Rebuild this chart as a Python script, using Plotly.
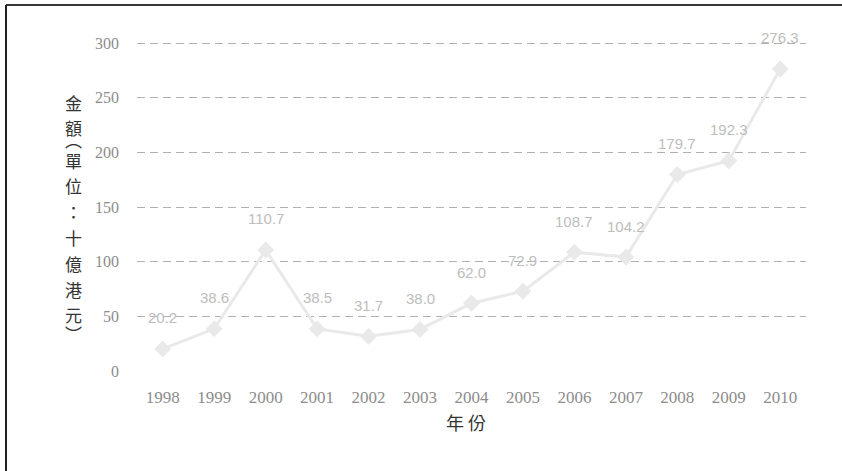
import plotly.graph_objects as go

years = ["1998", "1999", "2000", "2001", "2002", "2003", "2004",
         "2005", "2006", "2007", "2008", "2009", "2010"]
values = [20.2, 38.6, 110.7, 38.5, 31.7, 38.0, 62.0,
          72.9, 108.7, 104.2, 179.7, 192.3, 276.3]
y_ticks = [0, 50, 100, 150, 200, 250, 300]
y_title_chars = ["金", "額", "︵", "單", "位", "：", "十", "億", "港", "元", "︶"]
x_title = "年 份"

W, H = 842, 471
L, R, T, B = 137, 36, 38, 100
pw, ph = W - L - R, H - T - B
y_top_val = 304.6

fig = go.Figure()
fig.add_trace(go.Scatter(
    x=years, y=values, mode="lines+markers",
    line=dict(color="#e9e9e9", width=3),
    marker=dict(symbol="diamond", size=13, color="#e9e9e9"),
    hoverinfo="skip", showlegend=False,
))

for i, v in enumerate(values):
    fig.add_annotation(
        x=i, y=v, text=f"{v:.1f}", showarrow=False, yshift=31,
        xref="x", yref="y",
        font=dict(family="Liberation Sans, Arial, sans-serif", size=15, color="#bdbdbd"),
    )

# Y title, stacked vertically, one glyph per annotation
step = 25.8
py = 102.0
prev_paren = False
for k, ch in enumerate(y_title_chars):
    if k == 0:
        py_ch = py
    elif ch == "︵":
        py_ch = py + 0.45 * step
    elif ch == "︶":
        py_ch = py + 0.72 * step
    elif prev_paren:
        py = py + 1.25 * step
        py_ch = py
    else:
        py = py + step
        py_ch = py
    prev_paren = ch in ("︵", "︶")
    fig.add_annotation(
        xref="paper", yref="paper",
        x=(73 - L) / pw, y=1 - (py_ch - T) / ph,
        text=ch, showarrow=False, xanchor="center", yanchor="middle",
        font=dict(family="Noto Sans CJK TC, sans-serif", size=17, color="#333333"),
    )

# X title
fig.add_annotation(
    xref="paper", yref="paper",
    x=(466 - L) / pw, y=-(422 - (T + ph)) / ph,
    text=x_title, showarrow=False, xanchor="center", yanchor="middle",
    font=dict(family="Noto Sans CJK TC, sans-serif", size=18, color="#333333"),
)

# Frame (top and left edges)
x_left = (6 - L) / pw
y_top = 1 + (T - 5) / ph
y_bot = -(H - (T + ph)) / ph
fig.add_shape(type="line", xref="paper", yref="paper", x0=x_left, x1=(W - L) / pw,
              y0=y_top, y1=y_top, line=dict(color="#3a3536", width=2))
fig.add_shape(type="line", xref="paper", yref="paper", x0=x_left, x1=x_left,
              y0=y_top, y1=y_bot, line=dict(color="#231f20", width=2))

fig.update_layout(
    width=W, height=H,
    margin=dict(l=L, r=R, t=T, b=B, pad=0),
    paper_bgcolor="white", plot_bgcolor="white",
    font=dict(family="Liberation Serif, Times New Roman, serif", size=16, color="#999999"),
    xaxis=dict(
        type="category", range=[-0.5, len(years) - 0.5],
        showgrid=False, showline=False, zeroline=False, ticks="",
        tickfont=dict(family="Liberation Serif, serif", size=17, color="#8c8c8c"),
        ticklabelstandoff=14,
    ),
    yaxis=dict(
        range=[0, y_top_val], tickvals=y_ticks,
        showgrid=True, gridcolor="#b0b0b0", gridwidth=1, griddash="8px,5px",
        zeroline=True, zerolinecolor="white", zerolinewidth=3,
        showline=False, ticks="",
        tickfont=dict(family="Liberation Serif, serif", size=16, color="#8c8c8c"),
        ticklabelstandoff=17,
    ),
)

fig.write_html("out.html")
